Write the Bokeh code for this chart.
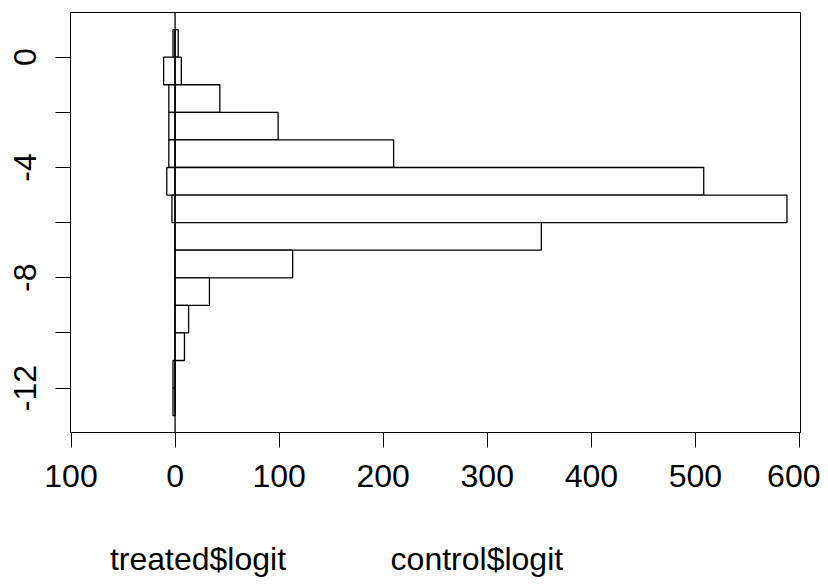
from bokeh.plotting import figure
from bokeh.layouts import column
from bokeh.models import FixedTicker, Span, Range1d, ColumnDataSource
from bokeh.core.properties import value
from bokeh.embed import file_html
from bokeh.resources import INLINE

# Histogram bins (logit), top edge of each unit-width bin
bin_top = [1, 0, -1, -2, -3, -4, -5, -6, -7, -8, -9, -10, -11, -12]
treated_counts = [2, 11, 6, 6, 6, 8, 3, 0, 0, 0, 0, 0, 2, 2]
control_counts = [3, 6, 43, 99, 210, 508, 588, 352, 113, 33, 13, 9, 0, 0]

x_ticks = [-100, 0, 100, 200, 300, 400, 500, 600]
x_tick_labels = ["100", "0", "100", "200", "300", "400", "500", "600"]
y_ticks = [0, -2, -4, -6, -8, -10, -12]
y_tick_labels = ["0", "", "-4", "", "-8", "", "-12"]
group_labels = ["treated$logit", "control$logit"]
group_label_x = [22, 290]

FONT = "Liberation Sans"

p = figure(width=820, height=520, output_backend="svg", toolbar_location=None,
           x_range=Range1d(-100.5, 601), y_range=Range1d(-13.61, 1.62),
           min_border_left=70, min_border_right=20, min_border_top=12,
           min_border_bottom=88)
p.grid.visible = False
p.outline_line_color = "black"
p.outline_line_width = 1
p.background_fill_color = "white"
p.border_fill_color = "white"

bottoms = [t - 1 for t in bin_top]
src_t = ColumnDataSource(dict(left=[-c for c in treated_counts], right=[0] * len(bin_top),
                              top=bin_top, bottom=bottoms))
src_c = ColumnDataSource(dict(left=[0] * len(bin_top), right=control_counts,
                              top=bin_top, bottom=bottoms))
p.quad(left="left", right="right", top="top", bottom="bottom", source=src_t,
       fill_color="white", line_color="black", line_width=1.3)
p.quad(left="left", right="right", top="top", bottom="bottom", source=src_c,
       fill_color="white", line_color="black", line_width=1.3)

p.add_layout(Span(location=0, dimension="height", line_color="black", line_width=1.3))

for ax in (p.xaxis, p.yaxis):
    ax.axis_line_color = "black"
    ax.axis_line_width = 1
    ax.major_tick_line_color = "black"
    ax.major_tick_line_width = 1
    ax.major_tick_in = 0
    ax.major_tick_out = 15
    ax.minor_tick_line_color = None
    ax.major_label_text_font = FONT
    ax.major_label_text_font_size = "32px"
    ax.major_label_text_color = "black"

p.xaxis.ticker = FixedTicker(ticks=x_ticks)
p.xaxis.major_label_overrides = {t: l for t, l in zip(x_ticks, x_tick_labels)}
p.xaxis.major_label_standoff = 17
p.yaxis.ticker = FixedTicker(ticks=y_ticks)
p.yaxis.major_label_overrides = {t: l for t, l in zip(y_ticks, y_tick_labels)}
p.yaxis.major_label_orientation = "vertical"
p.yaxis.major_label_standoff = 19

# Group names under the axis, in a strip sharing the x scale
p2 = figure(width=820, height=59, output_backend="svg", toolbar_location=None,
            x_range=p.x_range, y_range=Range1d(0, 59),
            min_border_left=70, min_border_right=20, min_border_top=0,
            min_border_bottom=0, x_axis_location=None, y_axis_location=None)
p2.grid.visible = False
p2.outline_line_color = None
p2.background_fill_color = "white"
p2.border_fill_color = "white"
src_l = ColumnDataSource(dict(x=group_label_x, y=[21] * len(group_labels), text=group_labels))
p2.text(x="x", y="y", text="text", source=src_l, text_align="center",
        text_baseline="alphabetic", text_font=value(FONT), text_font_size="32px",
        text_color="black")

layout = column(p, p2, spacing=0)
open("out.html", "w").write(file_html(layout, INLINE))
